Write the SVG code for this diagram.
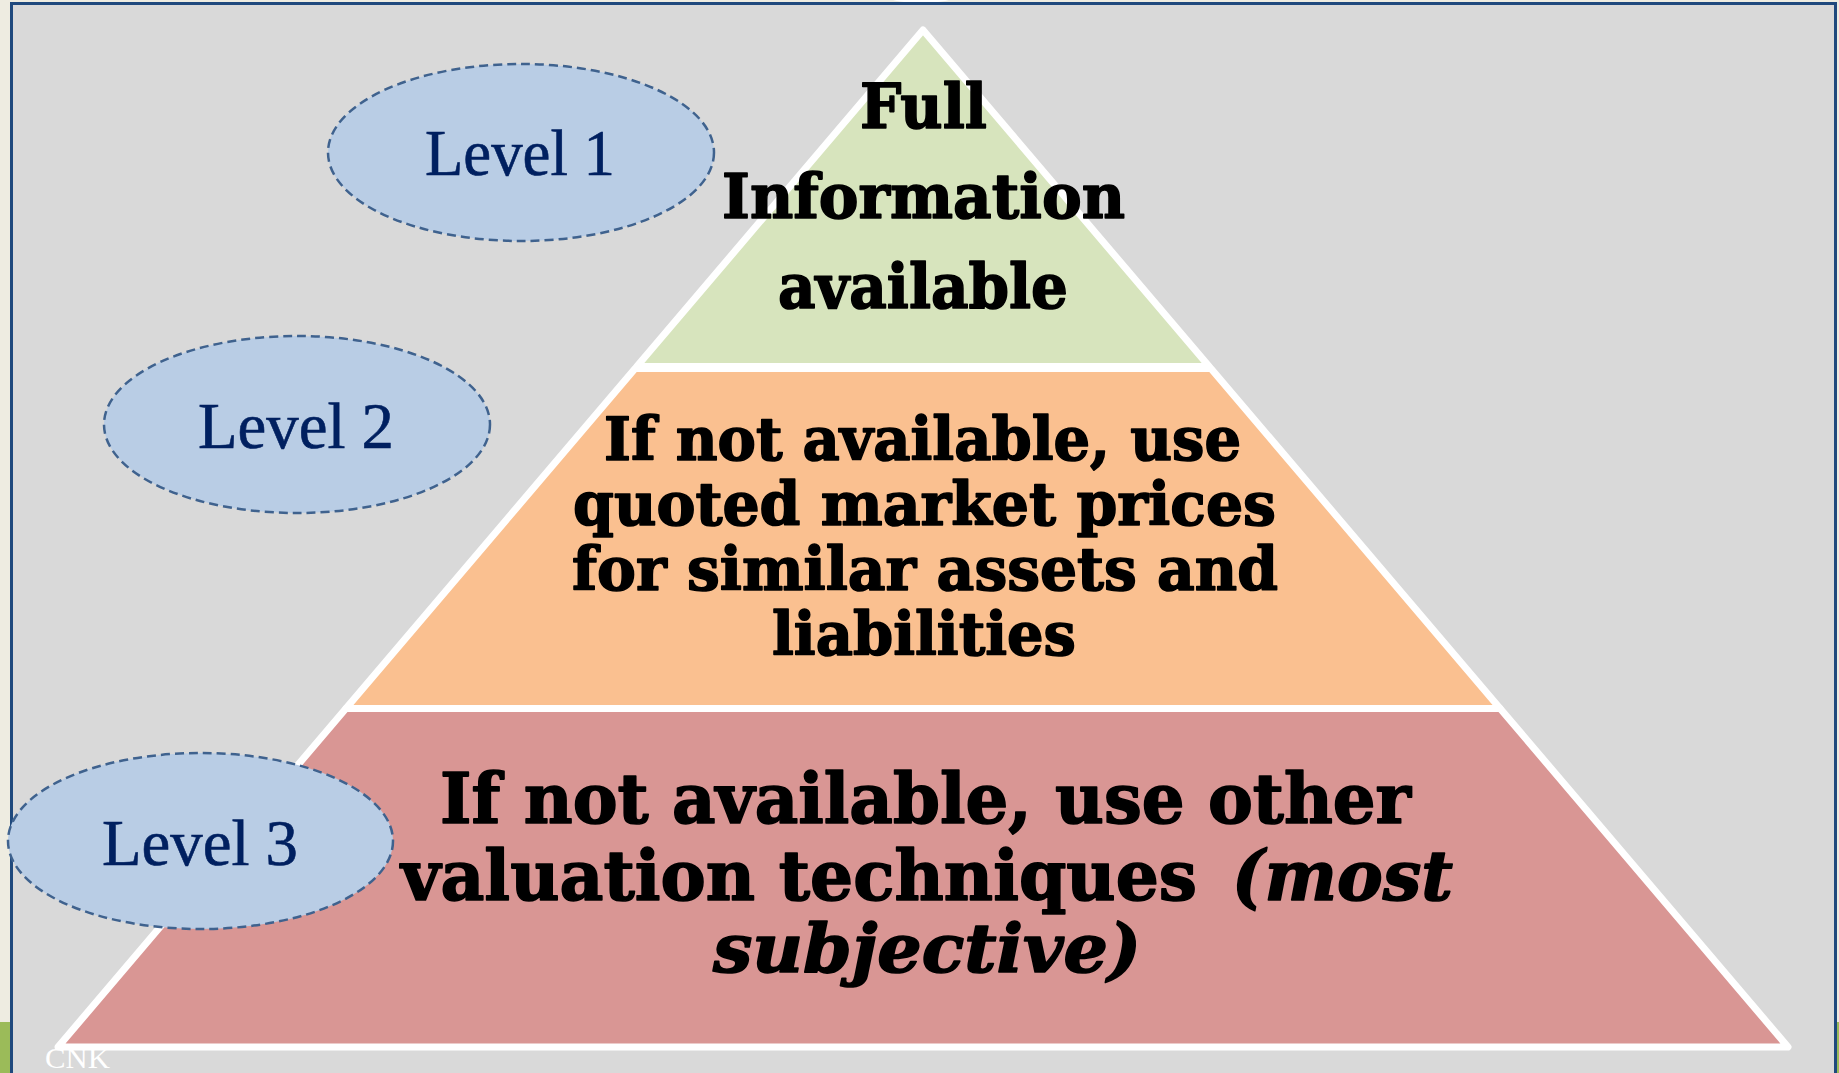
<svg xmlns="http://www.w3.org/2000/svg" width="1839" height="1073" viewBox="0 0 1839 1073">
  <style>
    .tier { stroke: #ffffff; stroke-width: 7; stroke-linejoin: round; }
    .ptxt { font-family: "DejaVu Serif", "Liberation Serif", serif; font-weight: bold; fill: #000000; stroke: #000000; stroke-width: 1.6; stroke-linejoin: round; }
    .ital { font-style: italic; }
    .lvl { fill: #b9cde5; stroke: #3f628e; stroke-width: 2.5; stroke-dasharray: 9 5; }
    .ltxt { font-family: "Liberation Serif", "Times New Roman", serif; font-size: 66px; fill: #002060; stroke: #002060; stroke-width: 0.6; text-anchor: middle; }
  </style>
  <!-- frame / background -->
  <rect x="0" y="0" width="1839" height="1073" fill="#eeece1"/>
  <rect x="0" y="1022" width="12" height="51" fill="#9bbb59"/>
  <rect x="1836" y="1022" width="3" height="51" fill="#9bbb59"/>
  <ellipse cx="921" cy="-4" rx="34" ry="7" fill="#ffffff"/>
  <rect x="11.5" y="3.5" width="1824" height="1075" fill="#d9d9d9" stroke="#1f497d" stroke-width="3"/>

  <g id="connectors"/>

  <g id="tier-level1">
    <polygon class="tier" points="923,30 1209.2,366.5 636.8,366.5" fill="#d7e4bd"/>
    <text class="ptxt" font-size="62" x="860" y="128" textLength="127" lengthAdjust="spacingAndGlyphs">Full</text>
    <text class="ptxt" font-size="62" x="722" y="218" textLength="403" lengthAdjust="spacingAndGlyphs">Information</text>
    <text class="ptxt" font-size="62" x="778" y="308" textLength="290" lengthAdjust="spacingAndGlyphs">available</text>
  </g>

  <g id="tier-level2">
    <polygon class="tier" points="635.1,368.5 1210.9,368.5 1500.1,708.5 345.9,708.5" fill="#fac090"/>
    <text class="ptxt" font-size="60" x="604" y="460" textLength="637" lengthAdjust="spacingAndGlyphs">If not available, use</text>
    <text class="ptxt" font-size="60" x="573" y="525" textLength="703" lengthAdjust="spacingAndGlyphs">quoted market prices</text>
    <text class="ptxt" font-size="60" x="572" y="590" textLength="706" lengthAdjust="spacingAndGlyphs">for similar assets and</text>
    <text class="ptxt" font-size="60" x="772" y="655" textLength="304" lengthAdjust="spacingAndGlyphs">liabilities</text>
  </g>

  <g id="tier-level3">
    <polygon class="tier" points="345.9,708.5 1500.1,708.5 1788,1047 58,1047" fill="#d99694"/>
    <text class="ptxt" font-size="70" x="440" y="823" textLength="971" lengthAdjust="spacingAndGlyphs">If not available, use other</text>
    <text class="ptxt" font-size="70" x="401" y="900" textLength="796" lengthAdjust="spacingAndGlyphs">valuation techniques</text>
    <text class="ptxt ital" font-size="70" x="1232" y="900" textLength="221" lengthAdjust="spacingAndGlyphs">(most</text>
    <text class="ptxt ital" font-size="68" x="713" y="972" textLength="428" lengthAdjust="spacingAndGlyphs">subjective)</text>
  </g>

  <g id="label-level1">
    <ellipse class="lvl" cx="521" cy="152.5" rx="193" ry="88.5"/>
    <text class="ltxt" x="520" y="175" textLength="190" lengthAdjust="spacingAndGlyphs">Level 1</text>
  </g>
  <g id="label-level2">
    <ellipse class="lvl" cx="297" cy="424.5" rx="193" ry="88.5"/>
    <text class="ltxt" x="296" y="448" textLength="196" lengthAdjust="spacingAndGlyphs">Level 2</text>
  </g>
  <g id="label-level3">
    <ellipse class="lvl" cx="200.5" cy="841" rx="192.5" ry="88"/>
    <text class="ltxt" x="200" y="865" textLength="196" lengthAdjust="spacingAndGlyphs">Level 3</text>
  </g>

  <text x="45" y="1068" font-family="Liberation Serif, serif" font-size="30" fill="#ffffff" textLength="65" lengthAdjust="spacingAndGlyphs">CNK</text>
</svg>
